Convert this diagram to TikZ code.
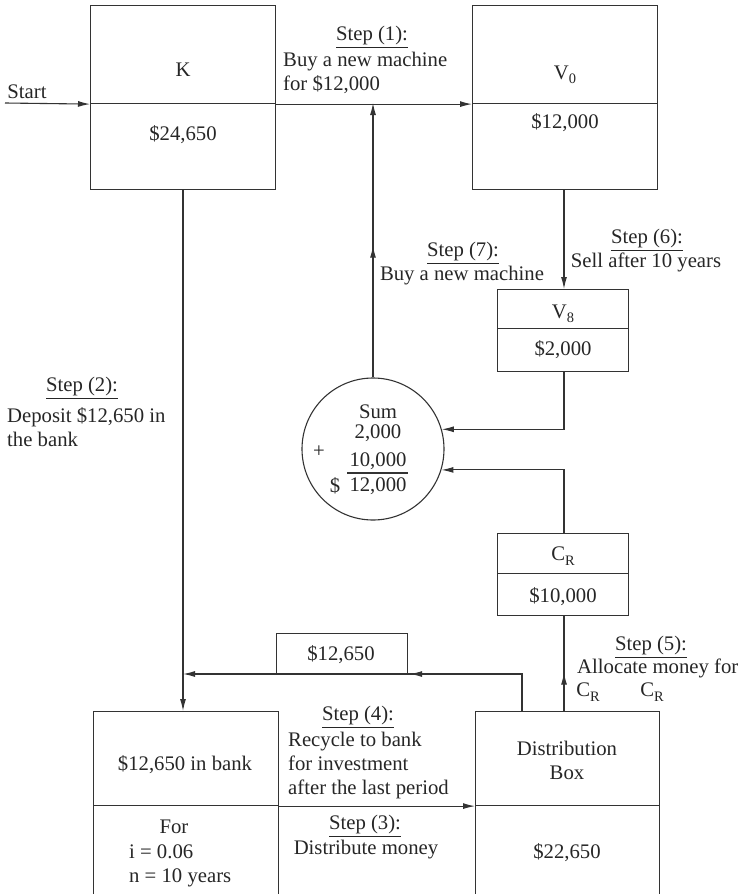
\documentclass[tikz,border=0pt]{standalone}
\usepackage{fontspec}
\setmainfont{Liberation Serif}
\usetikzlibrary{arrows.meta,decorations.markings}
\newcommand{\sbs}[1]{\raisebox{-0.45ex}{\fontsize{14.5}{14.5}\selectfont #1}}
\begin{document}
\begin{tikzpicture}[x=1bp,y=-1bp,
  every node/.style={font=\fontsize{20.8}{24}\selectfont, inner sep=0pt, text=black!85},
  line/.style={line width=1.1bp, draw=black!80},
  boxpart/.style={line, rectangle, anchor=north west, minimum width=#1},
  arr/.style={line, -{Latex[length=12bp,width=6bp]}},
  midarr/.style={line, postaction={decorate}, decoration={markings,
      mark=at position #1 with {\arrow{Latex[length=12bp,width=6bp]}}}},
  para/.style={align=left, anchor=base west}
]
\useasboundingbox (0,0) rectangle (740,894);
\clip (0,0) rectangle (740,894);

% ---- boxes ----
\node[boxpart=185bp, minimum height=98bp, draw] (Ktop) at (90,5) {};
\node[boxpart=185bp, minimum height=86bp, draw] (Kbot) at (90,103) {};
\node[boxpart=185bp, minimum height=98bp, draw] (V0top) at (472,5) {};
\node[boxpart=185bp, minimum height=86bp, draw] (V0bot) at (472,103) {};
\node[boxpart=131bp, minimum height=39bp, draw] (V8top) at (497,289) {};
\node[boxpart=131bp, minimum height=43bp, draw] (V8bot) at (497,328) {};
\node[boxpart=131bp, minimum height=40bp, draw] (CRtop) at (497,533) {};
\node[boxpart=131bp, minimum height=42bp, draw] (CRbot) at (497,573) {};
\node[boxpart=131bp, minimum height=41bp, draw] (Bx) at (276,633) {};
\node[boxpart=185bp, minimum height=94bp, draw] (Banktop) at (93,711) {};
\node[boxpart=185bp, minimum height=100bp, draw] (Bankbot) at (93,805) {};
\node[boxpart=184bp, minimum height=94bp, draw] (Disttop) at (475,711) {};
\node[boxpart=184bp, minimum height=100bp, draw] (Distbot) at (475,805) {};
\node[line, draw, circle, minimum size=142bp] (Sum) at (373,449) {};

% ---- box texts ----
\node (tK) at (183,70) {K};
\node (tK2) at (183,135) {\$24,650};
\node (tV0) at (565,75) {V\sbs{0}};
\node (tV02) at (565,123) {\$12,000};
\node (tV8) at (563,314) {V\sbs{8}};
\node (tV82) at (563,350) {\$2,000};
\node (tCR) at (563,556) {C\sbs{R}};
\node (tCR2) at (563,597) {\$10,000};
\node (tBx) at (341,655) {\$12,650};
\node (tBank) at (185,765) {\$12,650 in bank};
\node (tFor) at (174,827) {For};
\node[para] (tIN) at (129,882) {i = 0.06\\n = 10 years};
\node (tDist) at (567,748) {Distribution};
\node (tBox) at (567,773) {Box};
\node (tDist2) at (567,853) {\$22,650};

% ---- sum circle texts ----
\node[align=center, anchor=base, font=\fontsize{20.8}{20}\selectfont] (sS) at (378,438) {Sum\\2,000};
\node (sP) at (319,452) {+};
\node (s2) at (378,461) {10,000};
\draw[line] (347,473) -- (408,473);
\node (sD) at (335,486) {\$};
\node (s3) at (378,486) {12,000};

% ---- step labels ----
\node (st1) at (372,37) {\underline{Step (1):}};
\node[para] (st1t) at (283,90) {Buy a new machine\\for \$12,000};
\node (st7) at (463,253) {\underline{Step (7):}};
\node (st7t) at (462,276) {Buy a new machine};
\node (st6) at (647,240) {\underline{Step (6):}};
\node (st6t) at (646,262) {Sell after 10 years};
\node (st2) at (82,388) {\underline{Step (2):}};
\node[para] (st2t) at (7,446) {Deposit \$12,650 in\\the bank};
\node (st5) at (651,647) {\underline{Step (5):}};
\node[para] (st5t) at (577,673) {Allocate money for};
\node (st5a) at (588,692) {C\sbs{R}};
\node (st5b) at (652,692) {C\sbs{R}};
\node (st4) at (358,717) {\underline{Step (4):}};
\node[para] (st4t) at (288,794) {Recycle to bank\\for investment\\after the last period};
\node (st3) at (365,826) {\underline{Step (3):}};
\node (st3t) at (366,850) {Distribute money};
\node (tStart) at (27,92) {Start};

% ---- connectors ----
\coordinate (S0) at (5,103);
\coordinate (J1) at (373,103);
\coordinate (J2) at (183,674);
\draw[arr] (S0) -- (Ktop.south west);
\draw[arr] (Ktop.south east) -- (V0top.south west);
\draw[arr, midarr=0.48] (Sum.north) -- (J1);
\draw[arr] (564,189) -- (564,289);
\draw[arr] (564,371) |- (Sum.16);
\draw[arr] (564,533) |- (Sum.-17);
\draw[midarr=0.4] (564,711) -- (564,615);
\draw[arr] (183,189) -- (183,711);
\draw[arr, midarr=0.396] (522,711) |- (J2);
\draw[arr] (Banktop.south east) -- (Disttop.south west);
\end{tikzpicture}
\end{document}
